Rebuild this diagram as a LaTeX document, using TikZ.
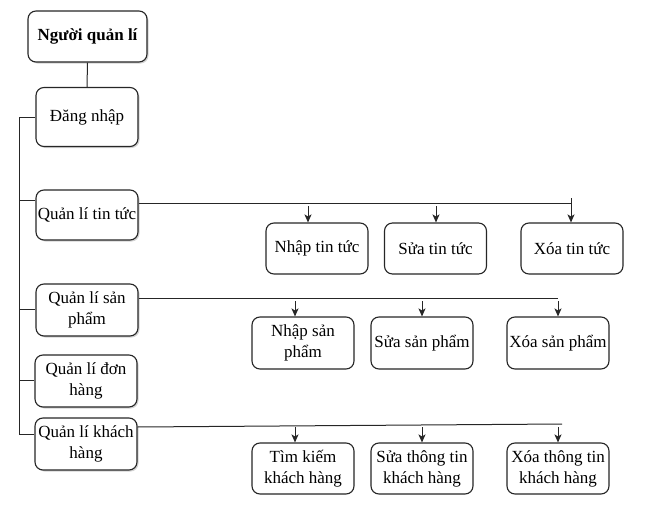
\documentclass[tikz,border=0pt]{standalone}
\usepackage{fontspec}
\setmainfont{Liberation Serif}
\usetikzlibrary{arrows.meta,shadows}
\tikzset{
	hop/.style={draw=black!85,line width=1.1pt,rounded corners=8pt,fill=white,align=center,
		minimum width=102pt,inner xsep=0pt,inner ysep=1pt,font=\fontsize{17}{21}\selectfont},
	chinh/.style={hop,drop shadow={opacity=0.35,shadow xshift=1.5pt,shadow yshift=-1.5pt}},
	noi/.style={draw=black!85,line width=1pt},
	mui/.style={noi,-{Stealth[length=8pt,width=7pt,inset=2pt]}}
}
\begin{document}
\begin{tikzpicture}[x=1pt,y=-1pt]
		\path[use as bounding box] (0,0) rectangle (649,509);
		\node[chinh,minimum width=119pt,minimum height=51pt,font=\fontsize{17}{21}\selectfont\bfseries] (nql) at (87.5,36.5) {Người quản lí};
		\node[chinh,minimum height=59pt] (dn) at (87,117) {Đăng nhập};
		\node[chinh,minimum height=50pt] (qltt) at (87,215) {Quản lí tin tức};
		\node[chinh,minimum height=52pt] (qlsp) at (87,310) {Quản lí sản\\phẩm};
		\node[chinh,minimum height=52pt] (qldh) at (86,381) {Quản lí đơn\\hàng};
		\node[chinh,minimum height=52pt] (qlkh) at (86,444) {Quản lí khách\\hàng};
		
		\node[hop,minimum height=51pt] (ntt) at (317,248.5) {Nhập tin tức};
		\node[hop,minimum height=51pt] (stt) at (435.5,248.5) {Sửa tin tức};
		\node[hop,minimum height=51pt] (xtt) at (572,248.5) {Xóa tin tức};
		
		\node[hop,minimum height=52pt] (nsp) at (303,343) {Nhập sản\\phẩm};
		\node[hop,minimum height=52pt] (ssp) at (422,343) {Sửa sản phẩm};
		\node[hop,minimum height=52pt] (xsp) at (558,343) {Xóa sản phẩm};
		
		\node[hop,minimum height=51pt] (tkkh) at (303,468.5) {Tìm kiếm\\khách hàng};
		\node[hop,minimum height=51pt] (skh) at (422,468.5) {Sửa thông tin\\khách hàng};
		\node[hop,minimum height=51pt] (xkh) at (558,468.5) {Xóa thông tin\\khách hàng};
		
		\draw[noi] (nql.south) -- (dn.north);
		\draw[noi] (dn.west) -- (19,117) -- (19,434) -- (qlkh.west |- 0,434);
		\draw[noi] (19,200) -- (qltt.west |- 0,200);
		\draw[noi] (19,309) -- (qlsp.west |- 0,309);
		\draw[noi] (19,380) -- (qldh.west |- 0,380);
		
		\draw[noi] (qltt.east |- 0,203) -- (571,203) -- (571,198);
		\draw[mui] (571,203) -- (xtt.north -| 571,0);
		\draw[mui] (308,206) -- (ntt.north -| 308,0);
		\draw[mui] (436,206) -- (stt.north -| 436,0);
		
		\draw[noi] (qlsp.east |- 0,298) -- (558,298);
		\draw[mui] (295,301) -- (nsp.north -| 295,0);
		\draw[mui] (422,301) -- (ssp.north -| 422,0);
		\draw[mui] (558,301) -- (xsp.north);
		
		\draw[noi] (qlkh.east |- 0,427) -- (562,424);
		\draw[mui] (295,427) -- (tkkh.north -| 295,0);
		\draw[mui] (422,427) -- (skh.north);
		\draw[mui] (558,427) -- (xkh.north);
\end{tikzpicture}
\end{document}
